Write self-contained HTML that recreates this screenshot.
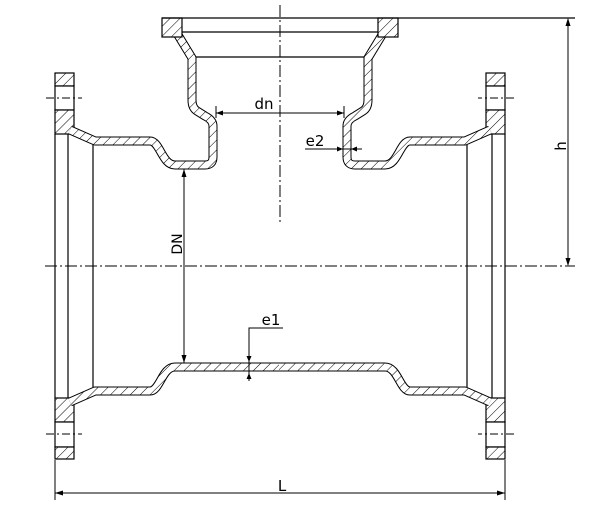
<!DOCTYPE html>
<html><head><meta charset="utf-8"><style>
html,body{margin:0;padding:0;background:#fff;width:610px;height:516px;overflow:hidden}
svg{display:block}
text{font-family:"DejaVu Sans","Liberation Sans",sans-serif;fill:#000}
</style></head><body>
<svg width="610" height="516" viewBox="0 0 610 516" xmlns="http://www.w3.org/2000/svg">
<defs>
<pattern id="h" patternUnits="userSpaceOnUse" width="7" height="7" patternTransform="rotate(45)">
<rect width="7" height="7" fill="#fff"/><line x1="0" y1="0" x2="0" y2="7" stroke="#000" stroke-width="1"/>
</pattern>
<pattern id="hr" patternUnits="userSpaceOnUse" width="7" height="7" patternTransform="rotate(-45)">
<rect width="7" height="7" fill="#fff"/><line x1="0" y1="0" x2="0" y2="7" stroke="#000" stroke-width="1"/>
</pattern>
</defs>

<!-- left half -->
<g>
 <rect x="55" y="73" width="19" height="13" fill="url(#h)" stroke="#000" stroke-width="1.2"/>
 <rect x="55" y="86" width="19" height="24" fill="#fff" stroke="#000" stroke-width="1.2"/>
 <rect x="55" y="110" width="19" height="24" fill="url(#h)" stroke="#000" stroke-width="1.2"/>
 <rect x="55" y="398" width="19" height="24" fill="url(#h)" stroke="#000" stroke-width="1.2"/>
 <rect x="55" y="422" width="19" height="25" fill="#fff" stroke="#000" stroke-width="1.2"/>
 <rect x="55" y="447" width="19" height="12" fill="url(#h)" stroke="#000" stroke-width="1.2"/>
 <line x1="55" y1="134" x2="55" y2="398" stroke="#000" stroke-width="1.2"/>
 <line x1="68" y1="134" x2="68" y2="398" stroke="#000" stroke-width="1.2"/>
 <line x1="93" y1="145" x2="93" y2="387" stroke="#000" stroke-width="1.2"/>
 <line x1="46" y1="98" x2="82" y2="98" stroke="#000" stroke-dasharray="8,3,2,3"/>
 <line x1="46" y1="434" x2="82" y2="434" stroke="#000" stroke-dasharray="8,3,2,3"/>
 <g fill="none" stroke-linejoin="round">
  <path d="M 70 130 L 95 141 L 150 141 C 160 141 162 165 175 165 L 205 165 Q 213 165 213 157 L 213 126 Q 213 120 205 116 L 197 111 Q 192 108 192 100 L 192 58 L 178 35" stroke="#000" stroke-width="9"/>
  <path d="M 70 130 L 95 141 L 150 141 C 160 141 162 165 175 165 L 205 165 Q 213 165 213 157 L 213 126 Q 213 120 205 116 L 197 111 Q 192 108 192 100 L 192 58 L 178 35" stroke="url(#h)" stroke-width="7"/>
  <path d="M 70 402 L 95 391 L 150 391 C 160 391 162 367 175 367 L 281 367" stroke="#000" stroke-width="9"/>
  <path d="M 70 402 L 95 391 L 150 391 C 160 391 162 367 175 367 L 281 367" stroke="url(#h)" stroke-width="7"/>
 </g>
 <rect x="162" y="18" width="20" height="19" fill="url(#h)" stroke="#000" stroke-width="1.2"/>
</g>

<!-- right half mirrored (pattern mirrored back) -->
<g transform="translate(560,0) scale(-1,1)">
 <rect x="55" y="73" width="19" height="13" fill="url(#hr)" stroke="#000" stroke-width="1.2"/>
 <rect x="55" y="86" width="19" height="24" fill="#fff" stroke="#000" stroke-width="1.2"/>
 <rect x="55" y="110" width="19" height="24" fill="url(#hr)" stroke="#000" stroke-width="1.2"/>
 <rect x="55" y="398" width="19" height="24" fill="url(#hr)" stroke="#000" stroke-width="1.2"/>
 <rect x="55" y="422" width="19" height="25" fill="#fff" stroke="#000" stroke-width="1.2"/>
 <rect x="55" y="447" width="19" height="12" fill="url(#hr)" stroke="#000" stroke-width="1.2"/>
 <line x1="55" y1="134" x2="55" y2="398" stroke="#000" stroke-width="1.2"/>
 <line x1="68" y1="134" x2="68" y2="398" stroke="#000" stroke-width="1.2"/>
 <line x1="93" y1="145" x2="93" y2="387" stroke="#000" stroke-width="1.2"/>
 <line x1="46" y1="98" x2="82" y2="98" stroke="#000" stroke-dasharray="8,3,2,3"/>
 <line x1="46" y1="434" x2="82" y2="434" stroke="#000" stroke-dasharray="8,3,2,3"/>
 <g fill="none" stroke-linejoin="round">
  <path d="M 70 130 L 95 141 L 150 141 C 160 141 162 165 175 165 L 205 165 Q 213 165 213 157 L 213 126 Q 213 120 205 116 L 197 111 Q 192 108 192 100 L 192 58 L 178 35" stroke="#000" stroke-width="9"/>
  <path d="M 70 130 L 95 141 L 150 141 C 160 141 162 165 175 165 L 205 165 Q 213 165 213 157 L 213 126 Q 213 120 205 116 L 197 111 Q 192 108 192 100 L 192 58 L 178 35" stroke="url(#hr)" stroke-width="7"/>
  <path d="M 70 402 L 95 391 L 150 391 C 160 391 162 367 175 367 L 281 367" stroke="#000" stroke-width="9"/>
  <path d="M 70 402 L 95 391 L 150 391 C 160 391 162 367 175 367 L 281 367" stroke="url(#hr)" stroke-width="7"/>
 </g>
 <rect x="162" y="18" width="20" height="19" fill="url(#hr)" stroke="#000" stroke-width="1.2"/>
</g>

<line x1="162" y1="18" x2="575" y2="18" stroke="#000" stroke-width="1.2"/>
<line x1="182" y1="32" x2="378" y2="32" stroke="#000" stroke-width="1.2"/>
<line x1="196" y1="57" x2="364" y2="57" stroke="#000" stroke-width="1.2"/>
<line x1="280" y1="5" x2="280" y2="224" stroke="#000" stroke-dasharray="12,3,2,3"/>
<line x1="45" y1="266" x2="575" y2="266" stroke="#000" stroke-dasharray="12,3,2,3"/>
<line x1="568" y1="19" x2="568" y2="265" stroke="#000"/>
<path d="M568 18 l-2.5 8 h5z M568 266 l-2.5 -8 h5z" fill="#000"/>
<text font-size="15" transform="translate(566,146) rotate(-90)" text-anchor="middle">h</text>
<line x1="55" y1="460" x2="55" y2="500" stroke="#000"/>
<line x1="505" y1="460" x2="505" y2="500" stroke="#000"/>
<line x1="55" y1="493" x2="505" y2="493" stroke="#000"/>
<path d="M55 493 l8 -2.5 v5z M505 493 l-8 -2.5 v5z" fill="#000"/>
<text x="282" y="491" font-size="15" text-anchor="middle">L</text>
<line x1="184" y1="169" x2="184" y2="363" stroke="#000"/>
<path d="M184 169 l-2.5 8 h5z M184 363 l-2.5 -8 h5z" fill="#000"/>
<text font-size="14" transform="translate(182,244) rotate(-90)" text-anchor="middle">DN</text>
<line x1="216" y1="106" x2="216" y2="118" stroke="#000"/>
<line x1="344" y1="106" x2="344" y2="118" stroke="#000"/>
<line x1="216" y1="113" x2="344" y2="113" stroke="#000"/>
<path d="M216 113 l7 -2.5 v5z M344 113 l-7 -2.5 v5z" fill="#000"/>
<text x="264" y="109" font-size="15" text-anchor="middle">dn</text>
<line x1="305" y1="149" x2="362" y2="149" stroke="#000"/>
<path d="M343 149 l-6 -2.5 v5z M351 149 l6 -2.5 v5z" fill="#000"/>
<text x="315" y="146" font-size="15" text-anchor="middle">e2</text>
<polyline points="283,328 249,328 249,381" fill="none" stroke="#000"/>
<path d="M249 362 l-2.5 -6 h5z M249 373 l-2.5 6 h5z" fill="#000"/>
<text x="271" y="325" font-size="15" text-anchor="middle">e1</text>
</svg>
</body></html>
